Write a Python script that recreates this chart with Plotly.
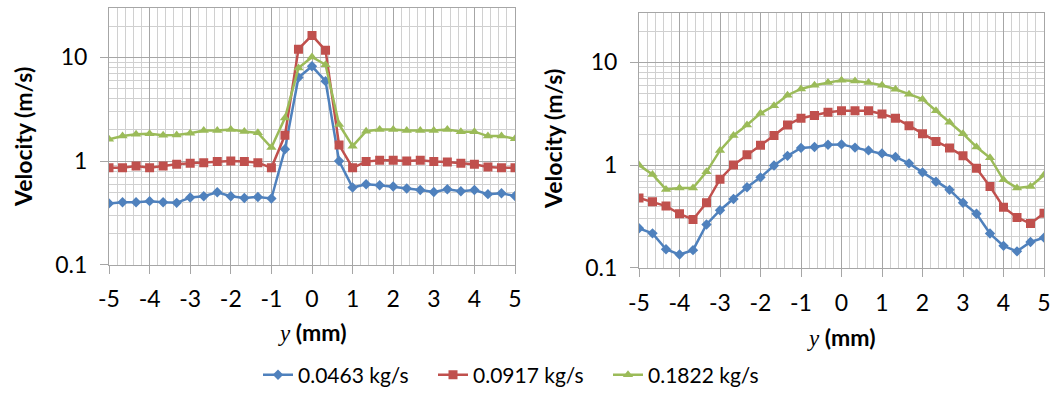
import plotly.graph_objects as go

# y positions (mm): 31 points from -5 to 5 with step 1/3
y_mm = [round(-5 + i / 3, 4) for i in range(31)]

series_names = ["0.0463 kg/s", "0.0917 kg/s", "0.1822 kg/s"]
colors = ["#4F81BD", "#C0504D", "#9BBB59"]
symbols = ["diamond", "square", "triangle-up"]
marker_sizes = [8, 9, 9]

# Left panel velocities (m/s)
left_0463 = [0.39, 0.40, 0.40, 0.41, 0.40, 0.395, 0.445, 0.457, 0.50, 0.457, 0.44, 0.45, 0.435,
             1.3, 6.4, 8.2, 5.9, 1.0, 0.555,
             0.597, 0.584, 0.567, 0.543, 0.526, 0.503, 0.535, 0.511, 0.526, 0.479, 0.489, 0.46]
left_0917 = [0.86, 0.86, 0.895, 0.86, 0.895, 0.93, 0.95, 0.965, 0.99, 1.0, 0.99, 0.965, 0.86,
             1.77, 12.0, 16.3, 11.7, 1.43, 0.86,
             0.987, 1.02, 1.02, 1.0, 1.015, 0.987, 0.98, 0.95, 0.93, 0.875, 0.86, 0.86]
left_1822 = [1.62, 1.74, 1.81, 1.83, 1.77, 1.78, 1.85, 1.97, 1.97, 2.02, 1.93, 1.87, 1.35,
             2.6, 7.9, 10.1, 8.5, 2.25, 1.39,
             1.94, 2.02, 2.02, 1.97, 1.97, 1.97, 2.02, 1.92, 1.92, 1.74, 1.74, 1.64]

# Right panel velocities (m/s)
right_0463 = [0.243, 0.217, 0.152, 0.135, 0.149, 0.265, 0.364, 0.468, 0.61, 0.76, 0.99, 1.23, 1.47,
              1.50, 1.58, 1.59, 1.48, 1.39, 1.30, 1.20, 1.04, 0.85, 0.69, 0.575,
              0.43, 0.336, 0.216, 0.164, 0.145, 0.179, 0.197]
right_0917 = [0.48, 0.44, 0.40, 0.336, 0.296, 0.43, 0.73, 1.0, 1.26, 1.56, 1.94, 2.46, 2.86,
              3.03, 3.26, 3.38, 3.38, 3.38, 3.14, 2.86, 2.42, 2.02, 1.70, 1.47, 1.23, 0.93, 0.62,
              0.39, 0.31, 0.27, 0.34]
right_1822 = [1.0, 0.81, 0.58, 0.60, 0.60, 0.86, 1.39, 1.94, 2.46, 3.19, 3.78, 4.78, 5.5,
              5.97, 6.34, 6.67, 6.57, 6.34, 5.97, 5.47, 4.9, 4.38, 3.38, 2.61, 2.02, 1.5, 1.18,
              0.72, 0.60, 0.62, 0.80]

x_ticks = [-5, -4, -3, -2, -1, 0, 1, 2, 3, 4, 5]
y_ticks = [0.1, 1, 10]
y_tick_text = ["0.1", "1", "10"]

FONT = "Lato"
fig = go.Figure()

left = [left_0463, left_0917, left_1822]
right = [right_0463, right_0917, right_1822]
for k in range(3):
    for panel, data in (("", left[k]), ("2", right[k])):
        fig.add_trace(go.Scatter(
            x=y_mm, y=data, mode="lines+markers",
            name=series_names[k], legendgroup=series_names[k],
            showlegend=(panel == ""),
            xaxis="x" + panel, yaxis="y" + panel,
            line=dict(color=colors[k], width=2.5),
            marker=dict(symbol=symbols[k], size=marker_sizes[k], color=colors[k]),
        ))

W, H = 1052, 396
major_grid = "#A6A6A6"
minor_grid = "#D0D0D0"

def xaxis_cfg(x0, x1, anchor):
    return dict(domain=[x0 / W, x1 / W], anchor=anchor, range=[-5, 5],
                tickvals=x_ticks, ticktext=[str(v) for v in x_ticks],
                showgrid=True, gridcolor=major_grid, gridwidth=1,
                minor=dict(dtick=0.2, showgrid=True, gridcolor=minor_grid, gridwidth=1),
                ticks="outside", ticklen=8, tickcolor=major_grid,
                ticklabelstandoff=6,
                showline=True, linecolor=major_grid, mirror=True,
                zeroline=False, automargin=False,
                tickfont=dict(family=FONT, size=23, color="#000"))

def yaxis_cfg(top, bottom, anchor):
    return dict(domain=[(H - bottom) / H, (H - top) / H], anchor=anchor, type="log",
                range=[-1, 1.4771], tickvals=y_ticks, ticktext=y_tick_text,
                showgrid=True, gridcolor=major_grid, gridwidth=1,
                minor=dict(dtick="D1", showgrid=True, gridcolor=minor_grid, gridwidth=1),
                ticks="outside", ticklen=8, tickcolor=major_grid,
                ticklabelstandoff=8,
                showline=True, linecolor=major_grid, mirror=True,
                zeroline=False, automargin=False,
                tickfont=dict(family=FONT, size=23, color="#000"))

fig.update_layout(
    width=W, height=H,
    margin=dict(l=0, r=0, t=0, b=0),
    paper_bgcolor="white", plot_bgcolor="white",
    xaxis=xaxis_cfg(109, 515, "y"),
    yaxis=yaxis_cfg(8, 266.7, "x"),
    xaxis2=xaxis_cfg(639, 1044, "y2"),
    yaxis2=yaxis_cfg(13.3, 270, "x2"),
    legend=dict(orientation="h", x=258 / W, xanchor="left", y=(H - 378) / H, yanchor="middle",
                font=dict(family=FONT, size=21, color="#000"), itemwidth=30,
                entrywidth=130, entrywidthmode="pixels",
                bgcolor="rgba(0,0,0,0)"),
    showlegend=True,
)

title_font = dict(family=FONT, size=23, color="#000")
annotations = [
    dict(text="<b>Velocity (m/s)</b>", x=23 / W, y=(H - 138) / H, textangle=-90),
    dict(text="<b>Velocity (m/s)</b>", x=553 / W, y=(H - 140) / H, textangle=-90),
    dict(text="<i><span style='font-family:Liberation Serif'>y</span></i><b> (mm)</b>",
         x=312 / W, y=(H - 335) / H),
    dict(text="<i><span style='font-family:Liberation Serif'>y</span></i><b> (mm)</b>",
         x=841 / W, y=(H - 340) / H),
]
for a in annotations:
    a.update(xref="paper", yref="paper", showarrow=False, font=title_font,
             xanchor="center", yanchor="middle")
fig.update_layout(annotations=annotations)

fig.write_html("out.html")
